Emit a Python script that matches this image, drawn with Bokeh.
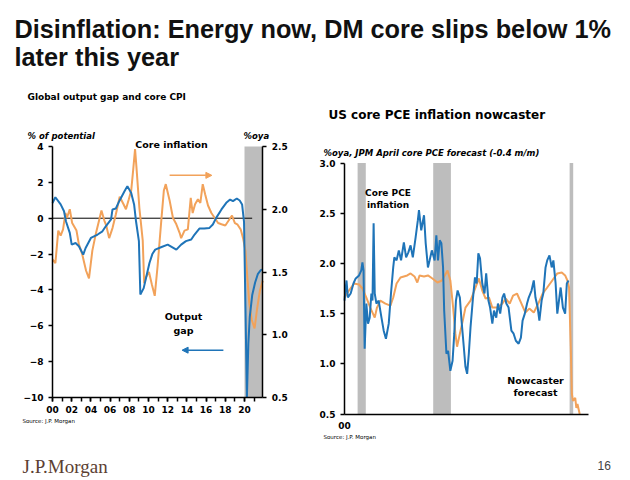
from bokeh.plotting import figure
from bokeh.models import (Range1d, LinearAxis, FixedTicker, Label, Arrow, NormalHead,
                          BoxAnnotation, ColumnDataSource)
from bokeh.layouts import column, row
from bokeh.embed import file_html
from bokeh.resources import INLINE

# ---------------- data: left chart ----------------
gap_years = [2000.0, 2000.3, 2000.85, 2001.2, 2001.4, 2001.8, 2002.0, 2002.4, 2002.75, 2003.2,
             2003.45, 2004.0, 2004.7, 2005.2, 2005.55, 2006.1, 2006.25, 2006.6, 2006.95, 2007.5,
             2007.8, 2008.2, 2008.5, 2008.7, 2009.0, 2009.15, 2009.5, 2009.8, 2010.1, 2010.4,
             2010.7, 2011.3, 2012.0, 2012.9, 2013.4, 2013.9, 2014.45, 2014.8, 2015.3, 2015.8,
             2016.35, 2016.7, 2017.05, 2017.6, 2018.1, 2018.5, 2018.8, 2019.2, 2019.5, 2019.75,
             2019.95, 2020.1, 2020.25, 2020.4, 2020.55, 2020.8, 2021.1, 2021.4, 2021.7, 2021.9]
output_gap = [0.85, 1.17, 0.77, 0.39, -0.17, -0.82, -1.47, -1.38, -1.56, -2.03,
              -1.66, -1.1, -0.91, -0.73, -0.45, -0.07, 0.49, 0.54, 0.95, 1.5,
              1.79, 1.41, 0.77, -0.17, -1.28, -4.26, -3.9, -3.2, -2.5, -2.0,
              -1.75, -1.62, -1.47, -1.75, -1.47, -1.28, -1.19, -0.91, -0.58, -0.58,
              -0.54, -0.35, 0.02, 0.49, 0.86, 1.04, 0.95, 1.1, 0.99, 0.77,
              -0.2, -5.0, -10.0, -7.0, -5.5, -4.3, -3.6, -3.1, -2.9, -2.85]

core_years = [2000.0, 2000.3, 2000.6, 2000.85, 2001.1, 2001.35, 2001.5, 2001.8, 2002.05, 2002.5,
              2002.75, 2003.1, 2003.5, 2003.8, 2004.15, 2004.5, 2004.85, 2005.1, 2005.4, 2005.6,
              2005.9, 2006.25, 2006.6, 2007.0, 2007.4, 2007.65, 2007.95, 2008.2, 2008.4, 2008.6,
              2008.75, 2009.05, 2009.4, 2009.55, 2009.75, 2010.05, 2010.35, 2010.65, 2010.95, 2011.3,
              2011.6, 2011.8, 2012.2, 2012.55, 2012.9, 2013.25, 2013.4, 2013.75, 2014.1, 2014.4,
              2014.6, 2014.85, 2015.15, 2015.4, 2015.65, 2015.9, 2016.2, 2016.55, 2016.9, 2017.25,
              2017.6, 2018.0, 2018.35, 2018.7, 2019.0, 2019.25, 2019.6, 2019.85, 2020.1, 2020.3,
              2020.5, 2020.75, 2021.05, 2021.3, 2021.6, 2021.9]
core_cpi = [1.60, 1.57, 1.83, 1.79, 1.84, 1.97, 1.93, 2.00, 1.89, 1.83,
            1.72, 1.64, 1.51, 1.45, 1.67, 1.80, 1.91, 1.99, 1.91, 1.87,
            1.77, 1.85, 1.96, 2.10, 2.04, 2.00, 2.08, 2.15, 2.31, 2.48,
            2.33, 2.01, 1.75, 1.41, 1.46, 1.50, 1.40, 1.31, 1.55, 1.88,
            2.15, 2.20, 2.07, 1.93, 1.88, 1.81, 1.77, 1.83, 1.84, 2.09,
            1.97, 2.04, 2.08, 2.05, 2.20, 2.12, 2.03, 1.97, 1.93, 1.89,
            1.88, 1.87, 1.91, 1.95, 1.89, 1.88, 1.84, 1.77, 1.67, 1.45,
            1.25, 1.12, 1.05, 1.20, 1.35, 1.43]

left_shade_start = [2020.0]
left_shade_end = [2021.9]
left_year_ticks = [2000, 2002, 2004, 2006, 2008, 2010, 2012, 2014, 2016, 2018, 2020]
left_year_labels = ["00", "02", "04", "06", "08", "10", "12", "14", "16", "18", "20"]
left_minor_years = list(range(2000, 2022))
gap_ticks = [-10, -8, -6, -4, -2, 0, 2, 4]
cpi_ticks = [0.5, 1.0, 1.5, 2.0, 2.5]

# ---------------- data: right chart ----------------
now_years = [2000.0, 2000.18, 2000.3, 2000.55, 2000.8, 2001.0, 2001.3, 2001.5, 2001.6, 2001.7,
             2001.8, 2001.95, 2002.1, 2002.25, 2002.4, 2002.5, 2002.6, 2002.7, 2002.85, 2003.05,
             2003.3, 2003.5, 2003.7, 2003.95, 2004.15, 2004.35, 2004.45, 2004.65, 2004.85, 2005.05,
             2005.3, 2005.5, 2005.7, 2005.9, 2006.1, 2006.35, 2006.55, 2006.65, 2006.85, 2007.1,
             2007.25, 2007.45, 2007.6, 2007.8, 2008.05, 2008.2, 2008.35, 2008.5, 2008.65, 2008.8,
             2008.9, 2009.1, 2009.25, 2009.45, 2009.65, 2009.8, 2009.95, 2010.1, 2010.3, 2010.45,
             2010.65, 2010.8, 2010.95, 2011.1, 2011.25, 2011.45, 2011.65, 2011.8, 2011.95, 2012.1,
             2012.3, 2012.5, 2012.65, 2012.85, 2013.0, 2013.2, 2013.35, 2013.55, 2013.7, 2013.9,
             2014.1, 2014.25, 2014.45, 2014.65, 2014.9, 2015.1, 2015.3, 2015.55, 2015.75, 2015.9,
             2016.1, 2016.3, 2016.45, 2016.7, 2016.9, 2017.05, 2017.25, 2017.4, 2017.6, 2017.75,
             2017.95, 2018.1, 2018.3, 2018.5, 2018.65, 2018.85, 2019.0, 2019.15, 2019.3, 2019.5,
             2019.7, 2019.85, 2020.0]
nowcaster = [1.63, 1.83, 1.66, 1.70, 1.80, 1.85, 1.88, 1.93, 2.01, 1.93,
             1.15, 1.60, 1.40, 1.46, 1.70, 1.63, 2.40, 1.70, 1.60, 1.63,
             1.46, 1.33, 1.25, 1.40, 1.70, 1.96, 2.06, 2.03, 2.13, 2.03,
             2.21, 2.06, 2.11, 2.18, 2.06, 2.26, 2.43, 2.53, 2.33, 2.48,
             2.20, 1.96, 2.03, 2.13, 2.03, 2.28, 2.03, 2.23, 2.20, 1.96,
             1.53, 1.10, 1.13, 0.93, 1.03, 1.30, 1.63, 1.73, 1.66, 1.43,
             1.17, 0.97, 0.90, 1.10, 1.36, 1.63, 1.86, 1.80, 2.10, 2.05,
             1.80, 1.70, 1.90, 1.63, 1.56, 1.40, 1.53, 1.46, 1.60, 1.50,
             1.66, 1.70, 1.60, 1.56, 1.33, 1.30, 1.23, 1.20, 1.26, 1.43,
             1.50, 1.60, 1.66, 1.73, 1.83, 1.66, 1.56, 1.43, 1.63, 1.70,
             1.96, 2.03, 2.08, 1.96, 2.03, 1.80, 1.50, 1.63, 1.76, 1.56,
             1.50, 1.80, 1.83]

pce_years = [2000.0, 2000.4, 2000.85, 2001.3, 2001.6, 2001.95, 2002.3, 2002.7, 2002.9, 2003.2,
             2003.65, 2004.1, 2004.35, 2004.65, 2005.0, 2005.6, 2005.9, 2006.25, 2006.5, 2006.7,
             2007.1, 2007.45, 2007.85, 2008.3, 2008.7, 2009.2, 2009.45, 2009.7, 2009.9, 2010.05,
             2010.3, 2010.6, 2010.8, 2011.25, 2011.7, 2012.0, 2012.3, 2012.6, 2012.9, 2013.2,
             2013.65, 2014.1, 2014.4, 2014.75, 2015.05, 2015.4, 2015.8, 2016.15, 2016.5, 2016.9,
             2017.3, 2017.7, 2018.1, 2018.55, 2019.0, 2019.4, 2019.7, 2019.9, 2020.05, 2020.2,
             2020.3, 2020.4, 2020.6, 2020.7, 2020.8, 2021.0]
core_pce = [1.66, 1.73, 1.80, 1.79, 1.75, 1.66, 1.56, 1.46, 1.56, 1.63,
            1.60, 1.58, 1.66, 1.80, 1.86, 1.88, 1.90, 1.87, 1.81, 1.88,
            1.87, 1.88, 1.85, 1.81, 1.83, 1.93, 1.83, 1.56, 1.30, 1.17,
            1.30, 1.45, 1.56, 1.63, 1.76, 1.85, 1.73, 1.65, 1.66, 1.56,
            1.56, 1.60, 1.65, 1.60, 1.68, 1.70, 1.60, 1.51, 1.55, 1.51,
            1.60, 1.70, 1.76, 1.83, 1.90, 1.91, 1.88, 1.83, 1.76, 1.17,
            0.70, 0.63, 0.66, 0.56, 0.60, 0.50]

recession_start = [2001.17, 2007.92, 2020.1]
recession_end = [2001.9, 2009.5, 2020.42]
pce_ticks = [0.5, 1.0, 1.5, 2.0, 2.5, 3.0]
right_year_end = 2021.75

BLUE = "#1f74b8"
ORANGE = "#f2a25a"
SHADE = "#bdbdbd"
FONT = "DejaVu Sans"

# ---------------- layout geometry (pixels) ----------------
HEAD_W, HEAD_H = 628, 88
L_W, R_W, CH_H = 308, 320, 390
# left chart: x of year 2000, px per year, y (from top) of gap=4 and gap=-10
L_X2000, L_PXYR, L_YTOP, L_YBOT = 52, 9.6, 58, 309
# right chart: x of year 2000, px per year, y (from top) of 3.0 and 0.5
R_X2000, R_PXYR, R_YTOP, R_YBOT = 36, 11.2, 74.5, 325.5


def style_axis(ax, size="9px"):
    ax.axis_line_color = "black"
    ax.axis_line_width = 1.5
    ax.major_tick_line_color = "black"
    ax.major_tick_line_width = 1.5
    ax.minor_tick_line_color = "black"
    ax.major_tick_in = 0
    ax.major_tick_out = 4
    ax.minor_tick_in = 0
    ax.minor_tick_out = 0
    ax.major_label_standoff = 5
    ax.major_label_text_font = FONT
    ax.major_label_text_font_size = size
    ax.major_label_text_font_style = "bold"
    ax.major_label_text_color = "black"


def lab(p, text, sx, sy, size="9px", style="bold", align="left", base="middle",
        font=FONT, color="black"):
    p.add_layout(Label(x=sx, y=sy, x_units="screen", y_units="screen", text=text,
                       text_font=font, text_font_size=size, text_font_style=style,
                       text_align=align, text_baseline=base, text_color=color))


def blank(p):
    p.outline_line_color = None
    p.grid.visible = False
    p.background_fill_color = "white"
    p.border_fill_color = "white"


# ---------------- header ----------------
head = figure(width=HEAD_W, height=HEAD_H, x_range=(0, 1), y_range=(0, 1), x_axis_type=None,
              y_axis_type=None, toolbar_location=None, output_backend="svg", min_border=0)
blank(head)
lab(head, "Disinflation: Energy now, DM core slips below 1%", 14, HEAD_H - 28, size="25.3px",
    base="alphabetic", font="Liberation Sans", color="#111111")
lab(head, "later this year", 14, HEAD_H - 56, size="25.3px", base="alphabetic",
    font="Liberation Sans", color="#111111")

# ---------------- left chart ----------------
g_ppu = (L_YBOT - L_YTOP) / (gap_ticks[-1] - gap_ticks[0])
c_ppu = (L_YBOT - L_YTOP) / (cpi_ticks[-1] - cpi_ticks[0])
left = figure(width=L_W, height=CH_H, min_border=0, x_axis_type=None, y_axis_type=None,
              x_range=Range1d(2000 - L_X2000 / L_PXYR, 2000 + (L_W - L_X2000) / L_PXYR),
              y_range=Range1d(gap_ticks[0] - (CH_H - L_YBOT) / g_ppu,
                              gap_ticks[-1] + L_YTOP / g_ppu),
              toolbar_location=None, output_backend="svg")
blank(left)
left.extra_y_ranges = {"core": Range1d(cpi_ticks[0] - (CH_H - L_YBOT) / c_ppu,
                                       cpi_ticks[-1] + L_YTOP / c_ppu)}
left_end = left_shade_end[-1]

for s, e in zip(left_shade_start, left_shade_end):
    left.add_layout(BoxAnnotation(left=s, right=e, bottom=gap_ticks[0], top=gap_ticks[-1],
                                  fill_color=SHADE, fill_alpha=1.0, line_color=None,
                                  level="underlay"))

left.segment(x0=[2000], y0=[0], x1=[2020.8], y1=[0], line_color="black", line_width=1)

gap_src = ColumnDataSource(dict(x=gap_years, y=output_gap))
cpi_src = ColumnDataSource(dict(x=core_years, y=core_cpi))
left.line("x", "y", source=cpi_src, line_color=ORANGE, line_width=2, y_range_name="core")
left.line("x", "y", source=gap_src, line_color=BLUE, line_width=2)

lax = LinearAxis(ticker=FixedTicker(ticks=gap_ticks), fixed_location=2000,
                 bounds=(gap_ticks[0], gap_ticks[-1]))
style_axis(lax)
left.add_layout(lax, "left")

rax = LinearAxis(y_range_name="core", ticker=FixedTicker(ticks=cpi_ticks),
                 fixed_location=left_end, bounds=(cpi_ticks[0], cpi_ticks[-1]))
style_axis(rax)
rax.major_label_overrides = {t: f"{t:.1f}" for t in cpi_ticks}
left.add_layout(rax, "right")

bx = LinearAxis(ticker=FixedTicker(ticks=left_year_ticks, minor_ticks=left_minor_years),
                fixed_location=gap_ticks[0], bounds=(2000, left_end))
style_axis(bx)
bx.minor_tick_out = 4
bx.minor_tick_line_width = 1.5
bx.major_label_standoff = 4
bx.major_label_overrides = dict(zip(left_year_ticks, left_year_labels))
left.add_layout(bx, "below")

left.add_layout(Arrow(end=NormalHead(size=6, fill_color=ORANGE, line_color=ORANGE),
                      x_start=2012.2, y_start=2.27, x_end=2016.6, y_end=2.27,
                      line_color=ORANGE, line_width=1.5, y_range_name="core"))
left.add_layout(Arrow(end=NormalHead(size=6, fill_color=BLUE, line_color=BLUE),
                      x_start=2017.8, y_start=-7.36, x_end=2013.5, y_end=-7.36,
                      line_color=BLUE, line_width=1.5))

lab(left, "Global output gap and core CPI", 27, CH_H - 8, size="9px")
lab(left, "% of potential", 27, CH_H - 47, size="8.5px", style="bold italic")
lab(left, "%oya", 243, CH_H - 47, size="8.5px", style="bold italic")
lab(left, "Core inflation", 171, CH_H - 56, size="9.5px", align="center")
lab(left, "Output", 183, CH_H - 228, size="9.5px", align="center")
lab(left, "gap", 183, CH_H - 242, size="9.5px", align="center")
lab(left, "Source: J.P. Morgan", 22, CH_H - 332, size="5.5px", style="normal")
lab(left, "J.P.Morgan", 22, CH_H - 378, size="19px", style="normal", base="alphabetic",
    font="Liberation Serif", color="#5c4033")

# ---------------- right chart ----------------
p_ppu = (R_YBOT - R_YTOP) / (pce_ticks[-1] - pce_ticks[0])
right = figure(width=R_W, height=CH_H, min_border=0, x_axis_type=None, y_axis_type=None,
               x_range=Range1d(2000 - R_X2000 / R_PXYR, 2000 + (R_W - R_X2000) / R_PXYR),
               y_range=Range1d(pce_ticks[0] - (CH_H - R_YBOT) / p_ppu,
                               pce_ticks[-1] + R_YTOP / p_ppu),
               toolbar_location=None, output_backend="svg")
blank(right)

for s, e in zip(recession_start, recession_end):
    right.add_layout(BoxAnnotation(left=s, right=e, bottom=pce_ticks[0], top=pce_ticks[-1],
                                   fill_color=SHADE, fill_alpha=1.0, line_color=None,
                                   level="underlay"))

right.line(pce_years, core_pce, line_color=ORANGE, line_width=2)
right.line(now_years, nowcaster, line_color=BLUE, line_width=2)

ry = LinearAxis(ticker=FixedTicker(ticks=pce_ticks), fixed_location=2000,
                bounds=(pce_ticks[0], pce_ticks[-1]))
style_axis(ry)
ry.major_label_overrides = {t: f"{t:.1f}" for t in pce_ticks}
right.add_layout(ry, "left")

rx = LinearAxis(ticker=FixedTicker(ticks=[2000]), fixed_location=pce_ticks[0],
                bounds=(2000, right_year_end))
style_axis(rx)
rx.major_tick_out = 0
rx.major_label_standoff = 8
rx.major_label_overrides = {2000: "00"}
right.add_layout(rx, "below")

lab(right, "US core PCE inflation nowcaster", 20, CH_H - 26, size="12px")
lab(right, "%oya,  JPM April core PCE forecast (-0.4 m/m)", 15, CH_H - 64, size="8.5px",
    style="bold italic")
lab(right, "Core PCE", 79.5, CH_H - 104, size="9px", align="center")
lab(right, "inflation", 79.5, CH_H - 116, size="9px", align="center")
lab(right, "Nowcaster", 227, CH_H - 292, size="9.5px", align="center")
lab(right, "forecast", 227, CH_H - 304.3, size="9.5px", align="center")
lab(right, "Source: J.P. Morgan", 15, CH_H - 348.7, size="5.5px", style="normal")
lab(right, "16", 289, CH_H - 377, size="12px", style="normal", font="Liberation Sans",
    color="#444444")

layout = column(head, row(left, right))
open("out.html", "w").write(file_html(layout, INLINE))
